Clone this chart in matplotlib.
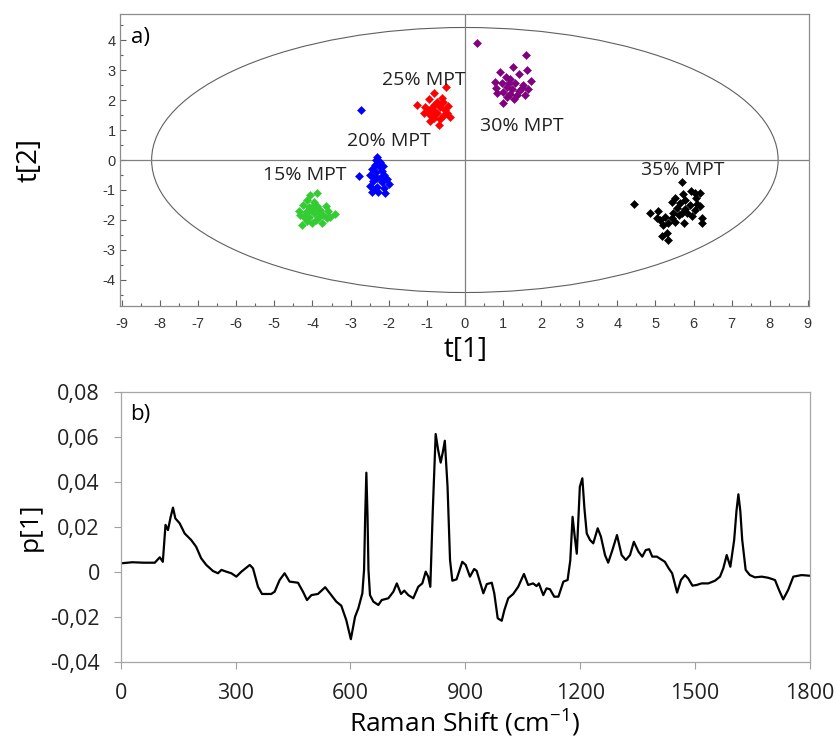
import matplotlib
matplotlib.use("Agg")
import matplotlib.pyplot as plt
from matplotlib.patches import Ellipse
import numpy as np

plt.rcParams["axes.unicode_minus"] = False

# ---- Score plot data (t[1], t[2]) ----
t1_15 = [-3.89, -4.06, -4.15, -3.97, -4.24, -4.35, -4.10, -3.89, -3.80, -3.64,
         -3.58, -3.42, -3.71, -3.84, -3.97, -4.08, -4.22, -4.28, -4.15, -4.02,
         -3.90, -3.75, -3.62, -3.93, -4.04, -4.17, -3.82, -3.53, -3.99, -4.32]
t2_15 = [-1.09, -1.16, -1.33, -1.39, -1.50, -1.69, -1.58, -1.55, -1.66, -1.55,
         -1.69, -1.81, -1.83, -1.89, -1.78, -1.89, -1.89, -2.16, -2.05, -2.11,
         -2.00, -2.11, -1.94, -1.72, -1.66, -1.72, -1.75, -1.89, -1.53, -1.83]

t1_20 = [-2.30, -2.33, -2.23, -2.35, -2.24, -2.44, -2.18, -2.33, -2.49, -2.11,
         -2.30, -2.04, -2.42, -2.18, -2.00, -2.49, -2.31, -2.12, -2.44, -2.27,
         -2.09, -2.37, -2.22, -2.40, -2.14, -2.73, -2.78]
t2_20 = [0.11, 0.00, -0.06, -0.17, -0.22, -0.30, -0.37, -0.41, -0.50, -0.50,
         -0.59, -0.63, -0.70, -0.74, -0.81, -0.86, -0.89, -0.94, -1.06, -1.08,
         -1.11, -0.97, -0.61, -0.56, -0.19, 1.67, -0.53]

t1_25 = [-0.49, -0.80, -0.95, -0.60, -0.74, -0.43, -1.26, -1.04, -0.87, -0.65,
         -0.52, -1.08, -0.91, -0.72, -0.56, -0.39, -0.82, -0.65, -0.91, -0.69,
         -0.78, -0.95, -0.46, -0.82, -0.58]
t2_25 = [2.45, 2.25, 2.03, 2.06, 1.95, 1.80, 1.84, 1.78, 1.73, 1.78,
         1.67, 1.56, 1.50, 1.56, 1.50, 1.43, 1.39, 1.36, 1.31, 1.17,
         1.61, 1.67, 1.56, 1.84, 1.92]

t1_30 = [0.33, 1.61, 1.26, 1.64, 0.93, 1.41, 1.09, 0.80, 1.19, 1.74,
         0.97, 1.32, 1.52, 1.10, 0.82, 1.23, 1.43, 1.66, 1.01, 0.84,
         1.19, 1.36, 1.58, 1.10, 1.28, 1.01, 1.49, 1.15]
t2_30 = [3.91, 3.50, 3.09, 3.00, 2.94, 2.87, 2.78, 2.61, 2.69, 2.63,
         2.56, 2.58, 2.50, 2.44, 2.39, 2.36, 2.31, 2.36, 2.28, 2.22,
         2.20, 2.17, 2.17, 2.11, 2.02, 1.89, 2.39, 2.56]

t1_35 = [4.43, 5.71, 5.93, 5.72, 6.03, 6.16, 5.52, 5.78, 6.07, 5.44,
         5.65, 5.91, 6.16, 5.56, 5.78, 6.04, 4.85, 5.07, 5.69, 5.95,
         6.22, 5.26, 5.44, 5.13, 5.34, 5.52, 5.74, 5.21, 6.22, 5.30,
         5.17, 5.34, 5.61, 5.82, 6.09, 5.47, 5.04]
t2_35 = [-1.48, -0.75, -1.02, -1.13, -1.11, -1.11, -1.28, -1.33, -1.28, -1.39,
         -1.44, -1.50, -1.53, -1.61, -1.64, -1.67, -1.78, -1.69, -1.78, -1.87,
         -1.94, -1.89, -1.94, -2.00, -2.11, -2.06, -2.11, -2.17, -2.09, -2.44,
         -2.53, -2.66, -1.83, -1.76, -1.47, -1.78, -1.94]

group_labels = ["15% MPT", "20% MPT", "25% MPT", "30% MPT", "35% MPT"]
group_colors = ["#33cc33", "#0000ff", "#ff0000", "#800080", "#000000"]
label_x = [-4.19, -2.00, -1.07, 1.50, 5.73]
label_y = [-0.50, 0.65, 2.68, 1.14, -0.32]

# Hotelling T2 ellipse semi-axes
ell_a, ell_b = 8.22, 4.42

# ---- Loading spectrum p[1] ----
shift = [0, 30, 60, 89, 102, 110, 117, 123.5, 130, 136.5, 142.7, 154, 167, 184, 197,
         210, 223.5, 241, 254, 263, 276, 289, 302, 315, 337, 345.5, 358.5, 369,
         393, 402, 415, 428, 441, 463, 476, 486.5, 498, 515, 534, 550, 563, 576,
         589, 601, 612, 620.5, 631, 635.5, 638.5, 641.5, 644.5, 647, 651, 659.7,
         672.8, 681.6, 699, 712, 721, 732, 740.5, 751, 764, 777, 787.6, 796.5,
         803, 808.5, 814.7, 822.5, 829, 835.6, 841, 846.4, 853.5, 860, 866, 877,
         892, 901, 912, 923, 929.5, 938, 947, 956, 969, 975.5, 984.5, 995, 1002,
         1012, 1025, 1038, 1053, 1064, 1077, 1086, 1092, 1103.5, 1112, 1121, 1132,
         1143, 1156, 1167, 1174, 1180, 1186, 1191, 1199, 1205.5, 1211, 1217,
         1225.5, 1234, 1245.6, 1254, 1264.7, 1273, 1284, 1296, 1308, 1319, 1330,
         1340, 1352, 1362, 1371, 1380, 1388, 1400, 1411, 1421, 1431, 1440, 1453,
         1463, 1473.5, 1482, 1493, 1504, 1517, 1534.5, 1552, 1565, 1573.6,
         1582.5, 1592, 1602, 1608, 1613, 1618, 1623, 1632, 1643, 1656, 1674,
         1691, 1708.6, 1719, 1730, 1743, 1756.5, 1778, 1800]
p1 = [0.0037, 0.0042, 0.0040, 0.0040, 0.0064, 0.0044, 0.0208, 0.0185, 0.0240,
      0.0285, 0.0237, 0.0215, 0.0170, 0.0141, 0.0111, 0.0060, 0.0030, 0.0003,
      -0.0007, 0.0008, 0.0000, -0.0007, -0.0022, 0.0000, 0.0030, 0.0015,
      -0.0067, -0.0099, -0.0099, -0.0089, -0.0037, -0.0007, -0.0044, -0.0049,
      -0.0089, -0.0126, -0.0104, -0.0099, -0.0069, -0.0104, -0.0133, -0.0151,
      -0.0215, -0.0300, -0.0200, -0.0163, -0.0096, 0.0008, 0.0250, 0.0440,
      0.0250, 0.0008, -0.0104, -0.0133, -0.0148, -0.0126, -0.0118, -0.0089,
      -0.0052, -0.0099, -0.0084, -0.0104, -0.0118, -0.0067, -0.0052, 0.0000,
      -0.0022, -0.0067, 0.0260, 0.0612, 0.0540, 0.0485, 0.0530, 0.0582, 0.0378,
      0.0052, -0.0040, -0.0034, 0.0044, 0.0030, -0.0022, 0.0012, 0.0004,
      -0.0044, -0.0096, -0.0055, -0.0049, -0.0096, -0.0207, -0.0218, -0.0170,
      -0.0118, -0.0099, -0.0067, -0.0010, -0.0059, -0.0052, -0.0064, -0.0052,
      -0.0104, -0.0074, -0.0078, -0.0111, -0.0111, -0.0044, -0.0037, 0.0050,
      0.0244, 0.0150, 0.0080, 0.0378, 0.0415, 0.0280, 0.0170, 0.0141, 0.0126,
      0.0193, 0.0156, 0.0074, 0.0040, 0.0096, 0.0163, 0.0074, 0.0052, 0.0074,
      0.0133, 0.0089, 0.0067, 0.0096, 0.0100, 0.0067, 0.0067, 0.0055, 0.0044,
      0.0015, -0.0007, -0.0093, -0.0037, -0.0015, -0.0030, -0.0062, -0.0059,
      -0.0052, -0.0052, -0.0040, -0.0022, 0.0015, 0.0074, 0.0022, 0.0141,
      0.0270, 0.0344, 0.0270, 0.0141, 0.0008, -0.0015, -0.0025, -0.0022,
      -0.0027, -0.0037, -0.0081, -0.0123, -0.0081, -0.0022, -0.0015, -0.0018]

p_ticks = [-0.04, -0.02, 0.0, 0.02, 0.04, 0.06, 0.08]
p_tick_labels = ["-0,04", "-0,02", "0", "0,02", "0,04", "0,06", "0,08"]
shift_ticks = [0, 300, 600, 900, 1200, 1500, 1800]

W, H = 837, 740
fig = plt.figure(figsize=(W / 100, H / 100), dpi=100)

def axes_px(l, t, r, b):
    return fig.add_axes([l / W, 1 - b / H, (r - l) / W, (b - t) / H])

label_font = "Open Sans"
tick_font = "Liberation Sans"
spine_grey = "#8c8c8c"

# ---------------- a) score plot ----------------
ax = axes_px(120, 14, 809, 306)
ax.set_xlim(-9.05, 9.03)
ax.set_ylim(-4.87, 4.87)

ax.add_patch(Ellipse((0, 0), 2 * ell_a, 2 * ell_b, fill=False,
                     edgecolor="#606060", lw=0.8))
ax.axhline(0, color="#808080", lw=0.9)
ax.axvline(0, color="#808080", lw=0.9)

groups = [(t1_15, t2_15), (t1_20, t2_20), (t1_25, t2_25),
          (t1_30, t2_30), (t1_35, t2_35)]
for (gx, gy), col in zip(groups, group_colors):
    ax.plot(gx, gy, linestyle="none", marker="D", markersize=3.8,
            color=col, markeredgewidth=0.4)

for txt, lx, ly in zip(group_labels, label_x, label_y):
    ax.text(lx, ly, txt, ha="center", va="center", fontsize=14,
            family=label_font, color="#222222")

ax.set_xticks(np.arange(-9, 10, 1))
ax.set_yticks(np.arange(-4, 5, 1))
ax.set_xticks(np.arange(-9, 9.01, 0.5), minor=True)
ax.set_yticks(np.arange(-4.5, 4.51, 0.5), minor=True)
ax.tick_params(which="both", direction="in", color="#606060", width=0.8)
ax.tick_params(which="major", length=4)
ax.tick_params(which="minor", length=2.5)
ax.tick_params(axis="x", pad=8)
ax.tick_params(axis="y", pad=3)
for lab in ax.get_xticklabels() + ax.get_yticklabels():
    lab.set_family(tick_font)
    lab.set_fontsize(10.5)
    lab.set_color("#333333")
for s in ax.spines.values():
    s.set_color(spine_grey)
    s.set_linewidth(0.9)

ax.set_xlabel("t[1]", fontsize=20, family=label_font, va="center")
ax.xaxis.set_label_coords(0.502, -0.151)
ax.set_ylabel("t[2]", fontsize=20, family=label_font, va="center")
ax.yaxis.set_label_coords(-0.131, 0.5)
ax.text(0.016, 0.955, "a)", transform=ax.transAxes, ha="left", va="top",
        fontsize=16, family=label_font)

# ---------------- b) loading plot ----------------
bx = axes_px(120.7, 391.7, 810, 661.7)
bx.plot(shift, p1, color="black", lw=1.6)
bx.set_xlim(0, 1800)
bx.set_ylim(-0.04, 0.08)
bx.set_xticks(shift_ticks)
bx.set_xticklabels([str(v) for v in shift_ticks])
bx.set_yticks(p_ticks)
bx.set_yticklabels(p_tick_labels)
bx.tick_params(direction="out", length=5, width=0.8, color="#a0a0a0", pad=10)
for lab in bx.get_xticklabels() + bx.get_yticklabels():
    lab.set_family(label_font)
    lab.set_fontsize(15.5)
    lab.set_color("#222222")
for s in bx.spines.values():
    s.set_color("#a6a6a6")
    s.set_linewidth(0.9)

bx.set_xlabel("Raman Shift (cm$^{\\mathregular{-1}}$)", fontsize=19,
              family=label_font, va="center")
bx.xaxis.set_label_coords(0.4995, -0.222)
bx.set_ylabel("p[1]", fontsize=19, family=label_font, va="center")
bx.yaxis.set_label_coords(-0.1316, 0.5)
bx.text(0.0135, 0.955, "b)", transform=bx.transAxes, ha="left", va="top",
        fontsize=16, family=label_font)

fig.savefig("out.png", dpi=100)
